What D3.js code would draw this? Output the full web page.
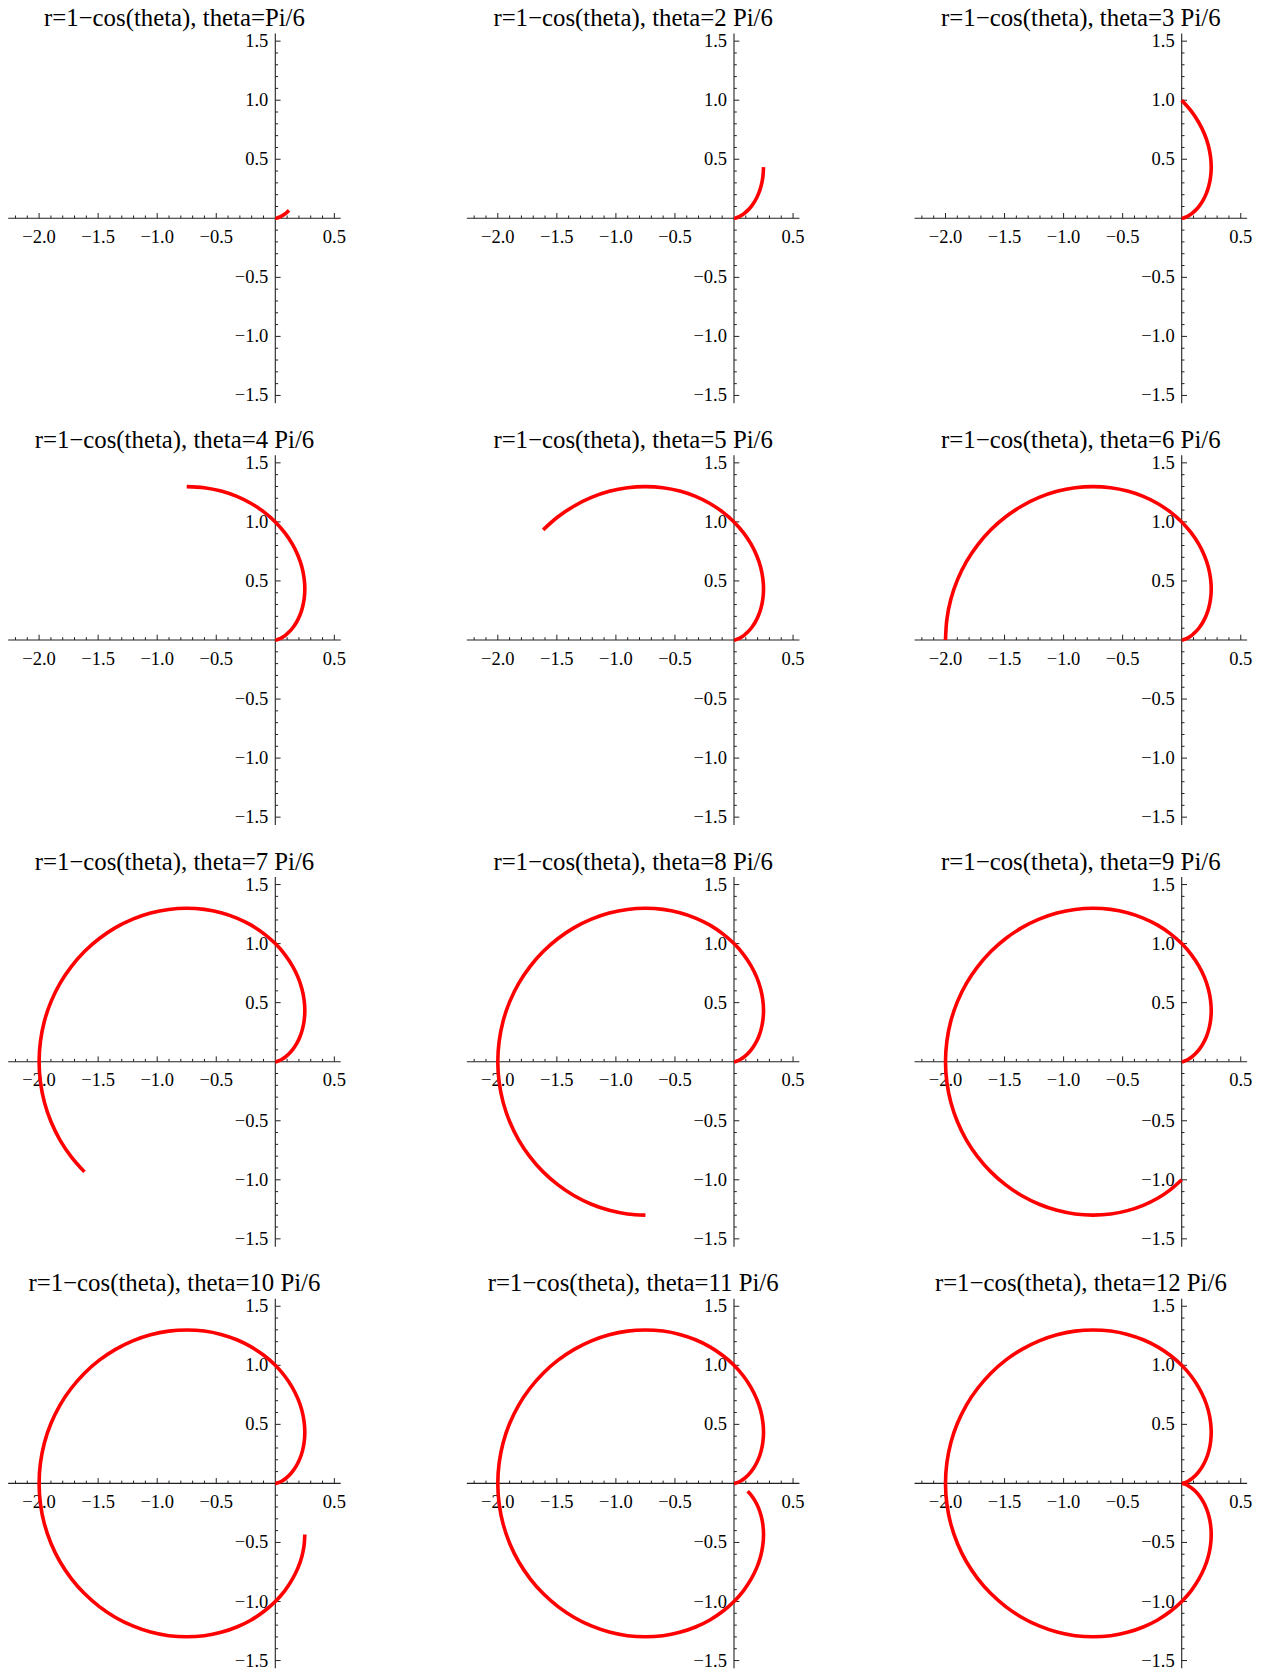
<!DOCTYPE html>
<html><head><meta charset="utf-8">
<script src="https://cdn.jsdelivr.net/npm/d3@7/dist/d3.min.js"></script>
<style>html,body{margin:0;padding:0;background:#fff;}</style>
</head><body>
<script>
// polar samples of the cardioid (theta in degrees, r)
const thetaDeg = [0,5,10,15,20,25,30,35,40,45,50,55,60,65,70,75,80,85,90,95,100,105,110,115,120,125,130,135,140,145,150,155,160,165,170,175,180,
  185,190,195,200,205,210,215,220,225,230,235,240,245,250,255,260,265,270,275,280,285,290,295,300,305,310,315,320,325,330,335,340,345,350,355,360];
const rValues = [0,0.004,0.015,0.034,0.060,0.094,0.134,0.181,0.234,0.293,0.357,0.426,0.500,0.577,0.658,0.741,0.826,0.913,1.000,
  1.087,1.174,1.259,1.342,1.423,1.500,1.574,1.643,1.707,1.766,1.819,1.866,1.906,1.940,1.966,1.985,1.996,2.000,
  1.996,1.985,1.966,1.940,1.906,1.866,1.819,1.766,1.707,1.643,1.574,1.500,1.423,1.342,1.259,1.174,1.087,1.000,
  0.913,0.826,0.741,0.658,0.577,0.500,0.426,0.357,0.293,0.234,0.181,0.134,0.094,0.060,0.034,0.015,0.004,0];
// end angle of each panel in degrees (k*Pi/6)
const panelEndDeg = [30,60,90,120,150,180,210,240,270,300,330,360];
const panelTitles = ["r=1\u2212cos(theta), theta=Pi/6","r=1\u2212cos(theta), theta=2 Pi/6","r=1\u2212cos(theta), theta=3 Pi/6",
  "r=1\u2212cos(theta), theta=4 Pi/6","r=1\u2212cos(theta), theta=5 Pi/6","r=1\u2212cos(theta), theta=6 Pi/6",
  "r=1\u2212cos(theta), theta=7 Pi/6","r=1\u2212cos(theta), theta=8 Pi/6","r=1\u2212cos(theta), theta=9 Pi/6",
  "r=1\u2212cos(theta), theta=10 Pi/6","r=1\u2212cos(theta), theta=11 Pi/6","r=1\u2212cos(theta), theta=12 Pi/6"];
const xTickLabels = [-2.0,-1.5,-1.0,-0.5,0.5];
const yTickLabels = [-1.5,-1.0,-0.5,0.5,1.0,1.5];
const xDomain = [-2.262, 0.554];
const yDomain = [-1.566, 1.564];

// layout
const W = 1264, H = 1670;
const unit = 118.1;
const colOrigin = [275.3, 734, 1181.7];
const rowOrigin = [218.3, 640, 1061.7, 1483.4];
const fontFam = "'Liberation Serif','Times New Roman',serif";

const svg = d3.select("body").append("svg").attr("width", W).attr("height", H)
  .style("background", "#fff");

const fmt = v => (v < 0 ? "\u2212" : "") + Math.abs(v).toFixed(1);

const pts = thetaDeg.map((t, i) => ({t, r: rValues[i]}));

panelEndDeg.forEach((endDeg, k) => {
  const ox = colOrigin[k % 3], oy = rowOrigin[Math.floor(k / 3)];
  const x = d3.scaleLinear().domain(xDomain).range([ox + xDomain[0]*unit, ox + xDomain[1]*unit]);
  const y = d3.scaleLinear().domain(yDomain).range([oy - yDomain[0]*unit, oy - yDomain[1]*unit]);
  const g = svg.append("g");

  // axes lines
  g.append("line").attr("x1", x(xDomain[0])).attr("x2", x(xDomain[1])).attr("y1", y(0)).attr("y2", y(0))
    .attr("stroke", "#222").attr("stroke-width", 1.1);
  g.append("line").attr("x1", x(0)).attr("x2", x(0)).attr("y1", y(yDomain[0])).attr("y2", y(yDomain[1]))
    .attr("stroke", "#222").attr("stroke-width", 1.1);

  const isMajor = v => Math.abs(v*2 - Math.round(v*2)) < 1e-6;
  // x ticks (upward)
  x.ticks(30).filter(v => Math.abs(v) > 1e-9).forEach(v => {
    const len = isMajor(v) ? 5.3 : 2.8;
    g.append("line").attr("x1", x(v)).attr("x2", x(v)).attr("y1", y(0)).attr("y2", y(0) - len)
      .attr("stroke", "#222").attr("stroke-width", 1);
  });
  // y ticks (rightward)
  y.ticks(30).filter(v => Math.abs(v) > 1e-9).forEach(v => {
    const len = isMajor(v) ? 5.3 : 2.8;
    g.append("line").attr("x1", x(0)).attr("x2", x(0) + len).attr("y1", y(v)).attr("y2", y(v))
      .attr("stroke", "#222").attr("stroke-width", 1);
  });
  // labels
  g.selectAll(".xl").data(xTickLabels).enter().append("text")
    .attr("x", d => x(d)).attr("y", y(0) + 24.5).attr("text-anchor", "middle")
    .attr("font-family", fontFam).attr("font-size", 18.5).attr("fill", "#000").text(fmt);
  g.selectAll(".yl").data(yTickLabels).enter().append("text")
    .attr("x", x(0) - 7).attr("y", d => y(d) + 6).attr("text-anchor", "end")
    .attr("font-family", fontFam).attr("font-size", 18.5).attr("fill", "#000").text(fmt);

  // title
  g.append("text").attr("x", (x(xDomain[0]) + x(xDomain[1])) / 2).attr("y", y(yDomain[1]) - 7.3)
    .attr("text-anchor", "middle").attr("font-family", fontFam).attr("font-size", 24.8).attr("fill", "#000")
    .text(panelTitles[k]);

  // curve
  const sub = pts.filter(p => p.t <= endDeg);
  const line = d3.line()
    .x(p => x(p.r * Math.cos(p.t * Math.PI / 180)))
    .y(p => y(p.r * Math.sin(p.t * Math.PI / 180)))
    .curve(d3.curveCatmullRom.alpha(0.5));
  g.append("path").datum(sub).attr("d", line).attr("fill", "none")
    .attr("stroke", "#ff0000").attr("stroke-width", 3.6).attr("stroke-linejoin", "round");
});
</script>
</body></html>
